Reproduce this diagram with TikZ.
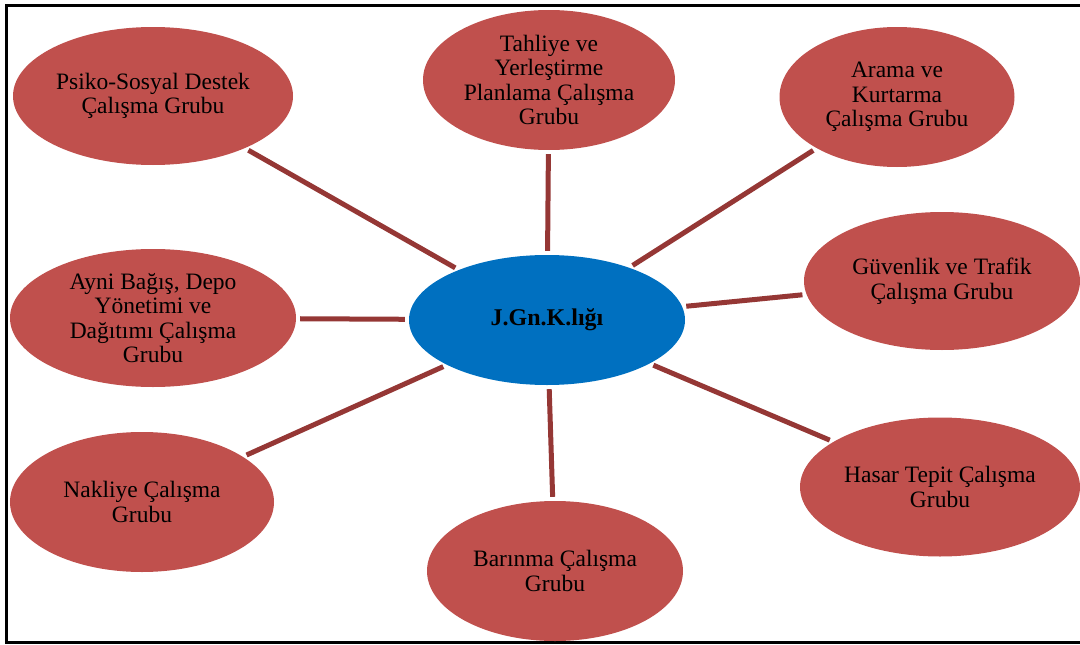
\documentclass[tikz,border=0pt]{standalone}
\usepackage{fontspec}
\setmainfont{Liberation Serif}
\usepackage{tikz}
\usetikzlibrary{shapes.geometric}

\definecolor{grupkirmizi}{HTML}{C0504D}
\definecolor{merkezmavi}{HTML}{0070C0}
\definecolor{bagkirmizi}{HTML}{953735}

\begin{document}
\begin{tikzpicture}[
  x=1pt, y=-1pt,
  every node/.style={ellipse, inner sep=0pt, align=center, font=\fontsize{23.5}{24.5}\selectfont},
  grup/.style={fill=grupkirmizi},
  merkez/.style={fill=merkezmavi, font=\fontsize{24}{25}\selectfont\bfseries},
  bag/.style={draw=bagkirmizi, line width=5pt, shorten <=4pt, shorten >=4pt}
]
\clip (0,0) rectangle (1080,645);
\useasboundingbox (0,0) rectangle (1080,645);
\draw[line width=2.5pt] (1090,5.5) -- (6.5,5.5) -- (6.5,642.5) -- (1090,642.5);

\node[merkez, minimum width=276pt, minimum height=130pt] (jgnk) at (547,320) {J.Gn.K.lığı};

\node[grup, minimum width=280pt, minimum height=138pt] (psiko) at (153,96) {Psiko-Sosyal Destek\\Çalışma Grubu};
\node[grup, minimum width=252pt, minimum height=140pt] (tahliye) at (549,80) {Tahliye ve\\Yerleştirme\\Planlama Çalışma\\Grubu};
\node[grup, minimum width=235pt, minimum height=140pt] (arama) at (897,97) {Arama ve\\Kurtarma\\Çalışma Grubu};
\node[grup, minimum width=276pt, minimum height=138pt] (guvenlik) at (942,281) {Güvenlik ve Trafik\\Çalışma Grubu};
\node[grup, minimum width=280pt, minimum height=139pt] (hasar) at (940,487) {Hasar Tepit Çalışma\\Grubu};
\node[grup, minimum width=256pt, minimum height=140pt] (barinma) at (555,571) {Barınma Çalışma\\Grubu};
\node[grup, minimum width=264pt, minimum height=140pt] (nakliye) at (142,502) {Nakliye Çalışma\\Grubu};
\node[grup, minimum width=286pt, minimum height=138pt] (ayni) at (153,318) {Ayni Bağış, Depo\\Yönetimi ve\\Dağıtımı Çalışma\\Grubu};

\foreach \g in {psiko,tahliye,arama,guvenlik,hasar,barinma,nakliye,ayni}
  \draw[bag] (jgnk) -- (\g);
\end{tikzpicture}
\end{document}
